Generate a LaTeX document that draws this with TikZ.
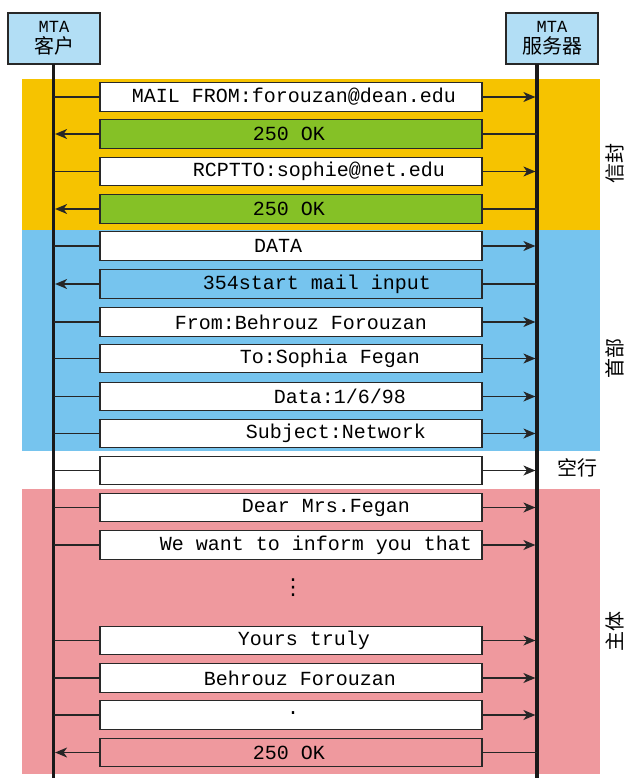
\documentclass[tikz,border=0pt]{standalone}
\usepackage{fontspec}
\newfontfamily\monof{Liberation Mono}
\newfontfamily\cjk{Noto Sans CJK SC}
\newfontfamily\djv{DejaVu Sans}
\usetikzlibrary{arrows.meta}
\definecolor{envY}{RGB}{246,195,0}
\definecolor{hdrB}{RGB}{118,196,238}
\definecolor{bodyP}{RGB}{239,153,158}
\definecolor{okG}{RGB}{133,193,38}
\definecolor{mtaB}{RGB}{178,222,245}
\definecolor{edgeC}{RGB}{40,40,40}
\begin{document}
\begin{tikzpicture}[x=1pt,y=-1pt,
  msgbox/.style={draw=edgeC, line width=1.3pt, minimum width=382pt, minimum height=28.5pt, inner sep=0pt, fill=white},
  msgtxt/.style={font=\monof\fontsize{20}{20}\selectfont, inner sep=0pt, text=black},
  mta/.style={draw=edgeC, line width=1.3pt, fill=mtaB, minimum width=92pt, minimum height=51pt, inner sep=0pt, align=center, font=\fontsize{17}{21}\selectfont},
  life/.style={line width=3.3pt, color=black!90},
  conn/.style={line width=1.3pt, color=black!85},
  arr/.style={conn, -{Stealth[length=12pt,width=10pt,inset=3.5pt]}, shorten >=1.6pt},
  side/.style={font=\cjk\fontsize{20}{20}\selectfont, rotate=90, inner sep=0pt}
]
\useasboundingbox (0,0) rectangle (630,778);
% section backgrounds
\fill[envY] (22,79) rectangle (600,230);
\fill[hdrB] (22,230) rectangle (600,451);
\fill[bodyP] (22,489) rectangle (600,774);
% participants
\node[mta] (client) at (54,38.5) {{\monof\fontsize{17}{21}\selectfont MTA}\\{\cjk\fontsize{20}{21}\selectfont 客户}};
\node[mta] (server) at (552,38.5) {{\monof\fontsize{17}{21}\selectfont MTA}\\{\cjk\fontsize{20}{21}\selectfont 服务器}};
\coordinate (cl) at (53.5,64);
\coordinate (sl) at (537,64);
\coordinate (clend) at (53.5,778);
\coordinate (slend) at (537,778);
\draw[life] (cl) -- (clend);
\draw[life] (sl) -- (slend);
% messages
\node[msgbox, label={[msgtxt,xshift=3pt]center:MAIL FROM:forouzan@dean.edu}] (m1) at (291,97) {};
\node[msgbox, fill=okG, label={[msgtxt,xshift=-2pt]center:250 OK}] (m2) at (291,134) {};
\node[msgbox, label={[msgtxt,xshift=28pt]center:RCPTTO:sophie@net.edu}] (m3) at (291,171.5) {};
\node[msgbox, fill=okG, label={[msgtxt,xshift=-2pt]center:250 OK}] (m4) at (291,209) {};
\node[msgbox, label={[msgtxt,xshift=-13pt]center:DATA}] (m5) at (291,246) {};
\node[msgbox, fill=hdrB, label={[msgtxt,xshift=26pt]center:354start mail input}] (m6) at (291,284) {};
\node[msgbox, label={[msgtxt,xshift=10pt]center:From:Behrouz Forouzan}] (m7) at (291,322) {};
\node[msgbox, label={[msgtxt,xshift=39pt]center:To:Sophia Fegan}] (m8) at (291,358.5) {};
\node[msgbox, label={[msgtxt,xshift=49pt]center:Data:1/6/98}] (m9) at (291,396.5) {};
\node[msgbox, label={[msgtxt,xshift=45pt]center:Subject:Network}] (m10) at (291,433.5) {};
\node[msgbox] (m11) at (291,470.5) {};
\node[msgbox, label={[msgtxt,xshift=35pt]center:Dear Mrs.Fegan}] (m12) at (291,507.5) {};
\node[msgbox, label={[msgtxt,xshift=25pt]center:We want to inform you that}] (m13) at (291,545) {};
\node[font=\djv\fontsize{22}{22}\selectfont, inner sep=0pt] (dots) at (293,588) {⋮};
\node[msgbox, label={[msgtxt,xshift=13pt]center:Yours truly}] (m14) at (291,640.5) {};
\node[msgbox, label={[msgtxt,xshift=9pt]center:Behrouz Forouzan}] (m15) at (291,678) {};
\node[msgbox, label={[msgtxt,xshift=2pt,yshift=2pt]center:.}] (m16) at (291,715) {};
\node[msgbox, fill=bodyP, label={[msgtxt,xshift=-2pt]center:250 OK}] (m17) at (291,752.5) {};
% client -> server connectors
\foreach \m in {m1,m3,m5,m7,m8,m9,m10,m11,m12,m13,m14,m15,m16}{
  \draw[conn] (\m.west -| cl) -- (\m.west);
  \draw[arr] (\m.east) -- (\m.east -| sl);
}
% server -> client connectors
\foreach \m in {m2,m4,m6,m17}{
  \draw[conn] (\m.east -| sl) -- (\m.east);
  \draw[arr] (\m.west) -- (\m.west -| cl);
}
% side labels
\node[side] (lenv) at (615,163) {信封};
\node[side] (lhdr) at (615,358) {首部};
\node[side] (lbody) at (615,631) {主体};
\node[font=\cjk\fontsize{20}{20}\selectfont, inner sep=0pt] (lblank) at (577,468) {空行};
\end{tikzpicture}
\end{document}
